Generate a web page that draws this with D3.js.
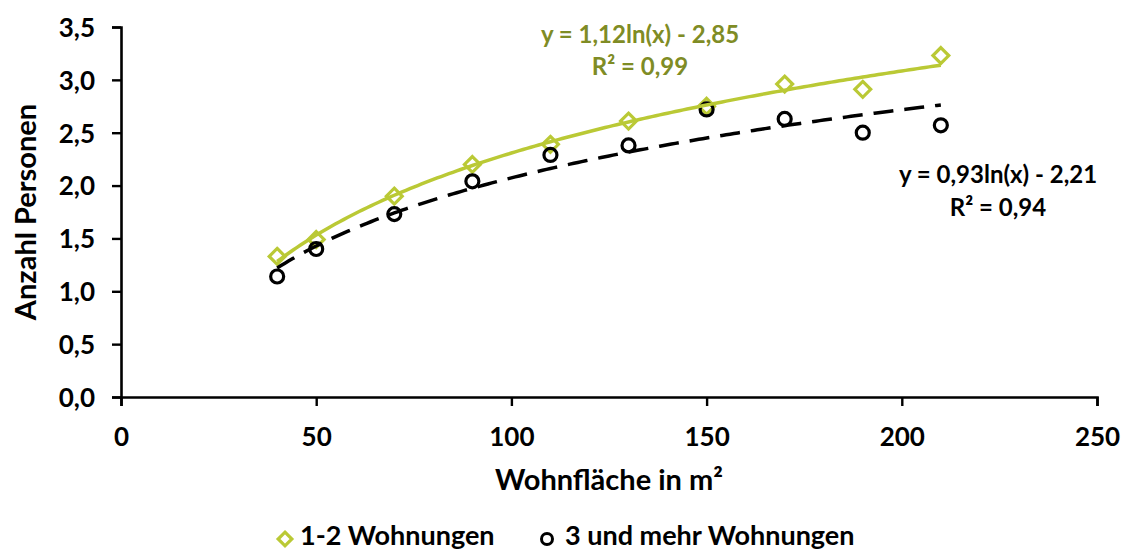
<!DOCTYPE html>
<html>
<head>
<meta charset="utf-8">
<script src="https://cdn.jsdelivr.net/npm/d3@7"></script>
<style>
  html, body { margin: 0; padding: 0; background: #fff; }
  svg text { font-family: Lato, "Open Sans", sans-serif; font-weight: 700; }
</style>
</head>
<body>
<svg id="chart" width="1123" height="550"></svg>
<script>
// Wohnfläche (m²) and average household size
const flaeche = [40, 50, 70, 90, 110, 130, 150, 170, 190, 210];
const personen12 = [1.33, 1.49, 1.90, 2.20, 2.39, 2.61, 2.75, 2.96, 2.91, 3.23];
const personen3plus = [1.14, 1.40, 1.73, 2.04, 2.29, 2.38, 2.72, 2.63, 2.50, 2.57];

// logarithmic trend coefficients: y = a·ln(x) + b
const trend12 = { a: 1.12, b: -2.85, r2: 0.99 };
const trend3plus = { a: 0.93, b: -2.21, r2: 0.94 };

const xTicks = [0, 50, 100, 150, 200, 250];
const yTicks = [0, 0.5, 1, 1.5, 2, 2.5, 3, 3.5];
const seriesNames = ["1-2 Wohnungen", "3 und mehr Wohnungen"];

const green = "#bac935";
const greenText = "#7f8c25";
const fmt = v => d3.format(".2f")(v).replace(".", ",");
const fmt1 = v => d3.format(".1f")(v).replace(".", ",");

const svg = d3.select("#chart");
const x = d3.scaleLinear().domain([0, 250]).range([121, 1097]);
const y = d3.scaleLinear().domain([0, 3.5]).range([397, 27]);

// axes
const xAxis = svg.append("g").attr("transform", `translate(0,${y(0)})`)
  .call(d3.axisBottom(x).tickValues(xTicks).tickSize(9).tickPadding(22).tickFormat(d3.format("d")));
const yAxis = svg.append("g").attr("transform", `translate(${x(0)},0)`)
  .call(d3.axisLeft(y).tickValues(yTicks).tickSize(9).tickPadding(17).tickFormat(fmt1));
[xAxis, yAxis].forEach(g => {
  g.select(".domain").attr("stroke", "#000").attr("stroke-width", 2.6);
  g.selectAll(".tick line").attr("stroke", "#000").attr("stroke-width", 2.4);
  g.selectAll(".tick text").attr("fill", "#000").style("font-size", "26px")
    .style("font-family", "Lato, sans-serif").style("font-weight", 700);
});
yAxis.selectAll(".tick text").attr("dy", "0.36em");

// axis titles
svg.append("text").attr("x", 609).attr("y", 490).attr("text-anchor", "middle")
  .style("font-size", "29px").text("Wohnfläche in m²");
svg.append("text").attr("transform", `translate(36,${y(1.75)}) rotate(-90)`)
  .attr("text-anchor", "middle").style("font-size", "29px").text("Anzahl Personen");

// trend curves
const xs = d3.range(flaeche[0], flaeche[flaeche.length - 1] + 0.5, 1);
const curve = t => d3.line().x(d => x(d)).y(d => y(t.a * Math.log(d) + t.b))(xs);

// markers
const diamond = d3.symbol().type(d3.symbolDiamond2).size(160);
svg.append("g").selectAll("path").data(flaeche).join("path")
  .attr("d", diamond)
  .attr("transform", (d, i) => `translate(${x(d)},${y(personen12[i])})`)
  .attr("fill", "none").attr("stroke", green).attr("stroke-width", 3.2);
svg.append("g").selectAll("circle").data(flaeche).join("circle")
  .attr("cx", d => x(d)).attr("cy", (d, i) => y(personen3plus[i])).attr("r", 6.5)
  .attr("fill", "none").attr("stroke", "#000").attr("stroke-width", 3.2);

svg.append("path").attr("d", curve(trend12)).attr("fill", "none")
  .attr("stroke", green).attr("stroke-width", 3.5);
svg.append("path").attr("d", curve(trend3plus)).attr("fill", "none")
  .attr("stroke", "#000").attr("stroke-width", 3.5).attr("stroke-dasharray", "20,11");

// equation labels
const eq = t => `y = ${fmt(t.a)}ln(x) - ${fmt(-t.b)}`;
svg.append("text").attr("x", 640).attr("y", 43).attr("text-anchor", "middle")
  .attr("fill", greenText).style("font-size", "24px").text(eq(trend12));
svg.append("text").attr("x", 640).attr("y", 75).attr("text-anchor", "middle")
  .attr("fill", greenText).style("font-size", "24px").text(`R² = ${fmt(trend12.r2)}`);
svg.append("text").attr("x", 998).attr("y", 183).attr("text-anchor", "middle")
  .attr("fill", "#000").style("font-size", "24px").text(eq(trend3plus));
svg.append("text").attr("x", 998).attr("y", 216).attr("text-anchor", "middle")
  .attr("fill", "#000").style("font-size", "24px").text(`R² = ${fmt(trend3plus.r2)}`);

// legend
const lg = svg.append("g");
lg.append("path").attr("d", d3.symbol().type(d3.symbolDiamond2).size(120))
  .attr("transform", "translate(285,539)").attr("fill", "none")
  .attr("stroke", green).attr("stroke-width", 3.2);
lg.append("text").attr("x", 300).attr("y", 545).style("font-size", "27px").text(seriesNames[0]);
lg.append("circle").attr("cx", 547).attr("cy", 539).attr("r", 5.5)
  .attr("fill", "none").attr("stroke", "#000").attr("stroke-width", 3);
lg.append("text").attr("x", 565).attr("y", 545).style("font-size", "27px").text(seriesNames[1]);
</script>
</body>
</html>
